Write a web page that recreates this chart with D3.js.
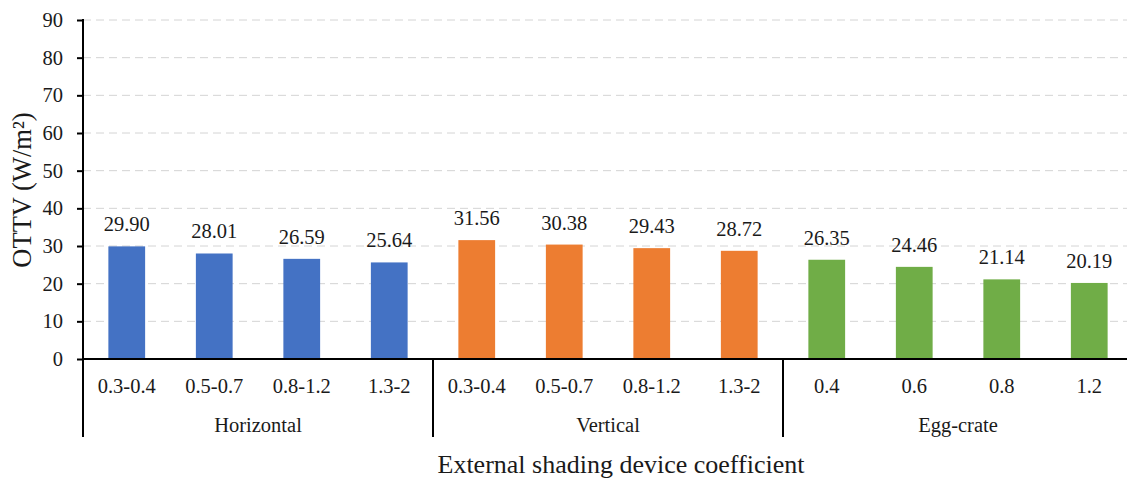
<!DOCTYPE html>
<html><head><meta charset="utf-8">
<script src="https://cdn.jsdelivr.net/npm/d3@7"></script>
<style>body{margin:0;background:#fff;overflow:hidden}svg{display:block}text{font-family:"Liberation Serif","Times New Roman",serif;fill:#1a1a1a}</style>
</head><body>
<script>
const groups = ["Horizontal", "Vertical", "Egg-crate"];
const categories = ["0.3-0.4","0.5-0.7","0.8-1.2","1.3-2","0.3-0.4","0.5-0.7","0.8-1.2","1.3-2","0.4","0.6","0.8","1.2"];
const groupOf = [0,0,0,0,1,1,1,1,2,2,2,2];
const values = [29.90,28.01,26.59,25.64,31.56,30.38,29.43,28.72,26.35,24.46,21.14,20.19];
const yTicks = [0,10,20,30,40,50,60,70,80,90];
const colors = ["#4472C4","#ED7D31","#70AD47"];

const W=1127,H=481;
const m={l:83,t:20};
const plotRight=1133;
const y0=359;
const fs="20.5px";
const svg=d3.select("body").append("svg").attr("width",W).attr("height",H);
const x=d3.scaleBand().domain(d3.range(categories.length)).range([m.l,plotRight]).paddingInner(0.58).paddingOuter(0.29);
const y=d3.scaleLinear().domain([0,90]).range([y0,m.t]);

// gridlines
svg.append("g").selectAll("line").data(yTicks.filter(d=>d>0)).join("line")
 .attr("x1",m.l).attr("x2",plotRight).attr("y1",d=>y(d)).attr("y2",d=>y(d))
 .attr("stroke","#d4d4d4").attr("stroke-width",1).attr("stroke-dasharray","8,5");

// bars
svg.append("g").selectAll("rect").data(values).join("rect")
 .attr("x",(d,i)=>x(i)).attr("width",x.bandwidth())
 .attr("y",d=>y(d)).attr("height",d=>y0-y(d))
 .attr("fill",(d,i)=>colors[groupOf[i]]);

// value labels
svg.append("g").selectAll("text").data(values).join("text")
 .attr("x",(d,i)=>x(i)+x.bandwidth()/2).attr("y",d=>y(d)-15)
 .attr("text-anchor","middle").attr("font-size",fs).text(d=>d.toFixed(2));

// y axis
const ya=svg.append("g").attr("transform",`translate(${m.l},0)`)
 .call(d3.axisLeft(y).tickValues(yTicks).tickSize(6).tickPadding(14));
ya.select(".domain").remove();
ya.selectAll(".tick line").attr("stroke","#000").attr("stroke-width",2);
ya.selectAll(".tick text").attr("font-size",fs).attr("font-family","Liberation Serif").attr("fill","#1a1a1a");
svg.append("line").attr("x1",m.l).attr("x2",m.l).attr("y1",m.t-1).attr("y2",437).attr("stroke","#000").attr("stroke-width",2);

// x axis baseline
svg.append("line").attr("x1",m.l).attr("x2",plotRight).attr("y1",y0).attr("y2",y0).attr("stroke","#000").attr("stroke-width",2);

// category labels
svg.append("g").selectAll("text").data(categories).join("text")
 .attr("x",(d,i)=>x(i)+x.bandwidth()/2).attr("y",393)
 .attr("text-anchor","middle").attr("font-size",fs).text(d=>d);

// group separators and labels
const step=x.step();
const groupStart=g=>m.l+groupOf.indexOf(g)*step;
const groupEnd=g=>m.l+(groupOf.lastIndexOf(g)+1)*step;
svg.append("g").selectAll("line").data([1,2]).join("line")
 .attr("x1",g=>groupStart(g)).attr("x2",g=>groupStart(g)).attr("y1",y0).attr("y2",437)
 .attr("stroke","#000").attr("stroke-width",2);
svg.append("g").selectAll("text").data(groups).join("text")
 .attr("x",(d,g)=>(groupStart(g)+groupEnd(g))/2).attr("y",432)
 .attr("text-anchor","middle").attr("font-size",fs).text(d=>d);

// axis titles
svg.append("text").attr("x",621).attr("y",473).attr("text-anchor","middle")
 .attr("font-size","26px").text("External shading device coefficient");
svg.append("text").attr("transform",`translate(31,190) rotate(-90)`).attr("text-anchor","middle")
 .attr("font-size","26.5px").text("OTTV (W/m²)");
</script>
</body></html>
